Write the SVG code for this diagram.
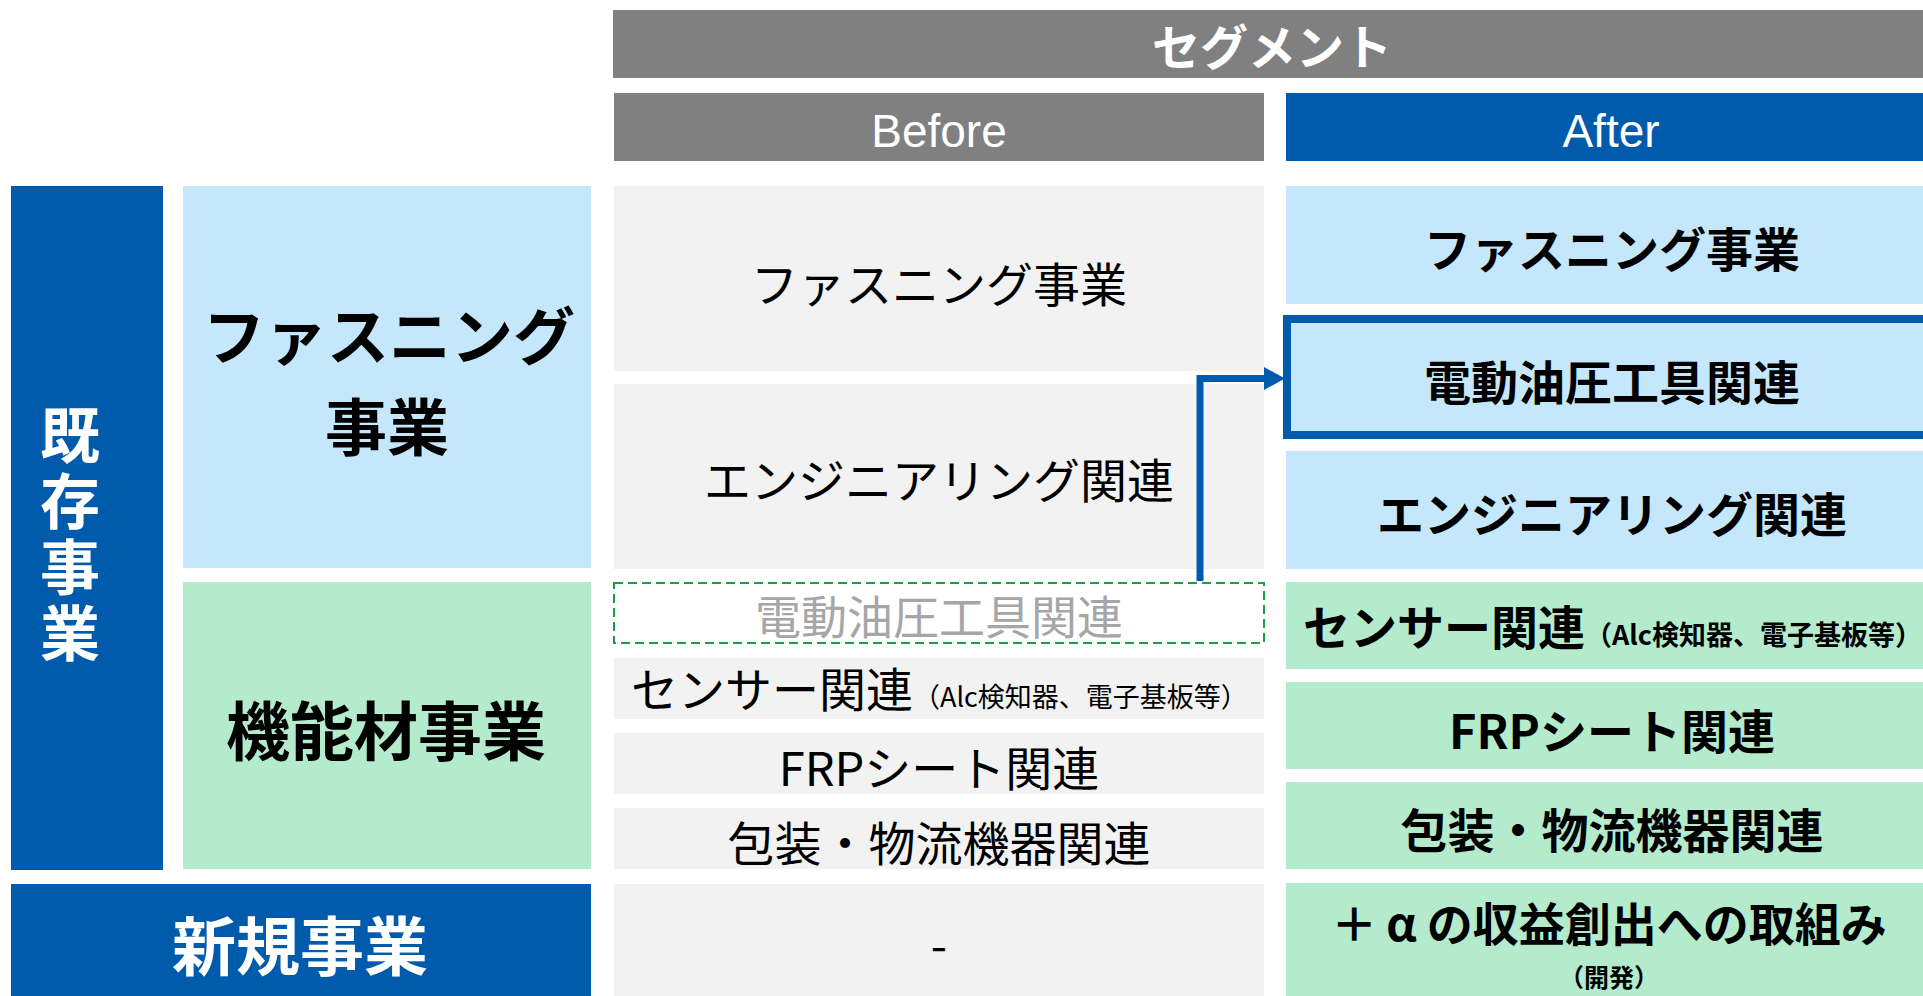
<svg xmlns="http://www.w3.org/2000/svg" width="1923" height="996" viewBox="0 0 1923 996">
<style>
.jp{font-family:"Noto Sans CJK JP","Noto Sans",sans-serif}
.b{font-weight:700}
.r{font-weight:400}
.c{text-anchor:middle;dominant-baseline:central}
.w{fill:#FFFFFF}
.k{fill:#000000}
.navy{fill:#005BAC}
.lb{fill:#C5E7FB}
.lg{fill:#B3EBCC}
.gr{fill:#808080}
.pg{fill:#F2F2F2}
</style>
<defs>
<marker id="ah" markerUnits="userSpaceOnUse" markerWidth="22" markerHeight="24" refX="0" refY="11.5" orient="auto">
<path d="M0,0 L21,11.5 L0,23 Z" fill="#005BAC"/>
</marker>
</defs>
<rect width="1923" height="996" fill="#FFFFFF"/>

<g id="header-segment">
<rect class="gr" x="613" y="10" width="1323" height="68"/>
<text class="jp b c w" x="1272" y="44" font-size="48">セグメント</text>
</g>
<g id="header-before">
<rect class="gr" x="614" y="93" width="650" height="68"/>
<text x="939" y="147" font-family="Liberation Sans, Arial, sans-serif" font-size="46" fill="#FFFFFF" text-anchor="middle">Before</text>
</g>
<g id="header-after">
<rect class="navy" x="1286" y="93" width="650" height="68"/>
<text x="1611" y="147" font-family="Liberation Sans, Arial, sans-serif" font-size="46" fill="#FFFFFF" text-anchor="middle">After</text>
</g>

<g id="existing">
<rect class="navy" x="11" y="186" width="152" height="684"/>
<text class="jp b w" x="70" y="537" font-size="60" writing-mode="vertical-rl" text-anchor="middle" letter-spacing="6">既存事業</text>
</g>
<g id="fastening">
<rect class="lb" x="183" y="186" width="408" height="382"/>
<text class="jp b c k" x="389" y="333" font-size="62">ファスニング</text>
<text class="jp b c k" x="387" y="424" font-size="62">事業</text>
</g>
<g id="functional">
<rect class="lg" x="183" y="582" width="408" height="287"/>
<text class="jp b c k" x="386" y="727" font-size="64">機能材事業</text>
</g>
<g id="new-business">
<rect class="navy" x="11" y="884" width="580" height="112"/>
<text class="jp b c w" x="300" y="942" font-size="64">新規事業</text>
</g>

<g id="before-fastening">
<rect class="pg" x="614" y="186" width="650" height="185"/>
<text class="jp r c k" x="939" y="281" font-size="47">ファスニング事業</text>
</g>
<g id="before-engineering">
<rect class="pg" x="614" y="384" width="650" height="185"/>
<text class="jp r c k" x="939" y="477" font-size="47">エンジニアリング関連</text>
</g>
<g id="before-hydraulic">
<rect x="614" y="583" width="650" height="60" fill="#FFFFFF" stroke="#1A9E4A" stroke-width="2" stroke-dasharray="9,5"/>
<text class="jp r c" x="939" y="614" font-size="46" fill="#A6A6A6">電動油圧工具関連</text>
</g>
<g id="before-sensor">
<rect class="pg" x="614" y="658" width="650" height="61"/>
<text class="jp r k" x="631" y="707" font-size="47">センサー関連<tspan font-size="27">（Alc検知器、電子基板等）</tspan></text>
</g>
<g id="before-frp">
<rect class="pg" x="614" y="733" width="650" height="61"/>
<text class="jp r c k" x="939" y="765" font-size="47">FRPシート関連</text>
</g>
<g id="before-packaging">
<rect class="pg" x="614" y="808" width="650" height="61"/>
<text class="jp r c k" x="939" y="840" font-size="47">包装・物流機器関連</text>
</g>
<g id="before-new">
<rect class="pg" x="614" y="884" width="650" height="112"/>
<text class="jp r c k" x="939" y="942" font-size="47">-</text>
</g>

<g id="after-fastening">
<rect class="lb" x="1286" y="186" width="650" height="118"/>
<text class="jp b c k" x="1612" y="246" font-size="47">ファスニング事業</text>
</g>
<g id="after-hydraulic">
<rect class="lb" x="1287" y="319" width="650" height="116" stroke="#005BAC" stroke-width="8"/>
<text class="jp b c k" x="1612" y="379" font-size="47">電動油圧工具関連</text>
</g>
<g id="after-engineering">
<rect class="lb" x="1286" y="451" width="650" height="118"/>
<text class="jp b c k" x="1612" y="511" font-size="47">エンジニアリング関連</text>
</g>
<g id="after-sensor">
<rect class="lg" x="1286" y="582" width="650" height="87"/>
<text class="jp b k" x="1303" y="645" font-size="47">センサー関連<tspan font-size="27">（Alc検知器、電子基板等）</tspan></text>
</g>
<g id="after-frp">
<rect class="lg" x="1286" y="682" width="650" height="87"/>
<text class="jp b c k" x="1612" y="728" font-size="47">FRPシート関連</text>
</g>
<g id="after-packaging">
<rect class="lg" x="1286" y="782" width="650" height="87"/>
<text class="jp b c k" x="1612" y="827" font-size="47">包装・物流機器関連</text>
</g>
<g id="after-new">
<rect class="lg" x="1286" y="883" width="650" height="113"/>
<text class="jp b c k" x="1609" y="921" font-size="46">＋<tspan dx="9">α</tspan><tspan dx="10">の収益創出への取組み</tspan></text>
<text class="jp b c k" x="1609" y="976" font-size="25">（開発）</text>
</g>

<g id="connectors">
<path d="M1200,581 V378.5 H1264" fill="none" stroke="#005BAC" stroke-width="7" marker-end="url(#ah)"/>
</g>
</svg>
